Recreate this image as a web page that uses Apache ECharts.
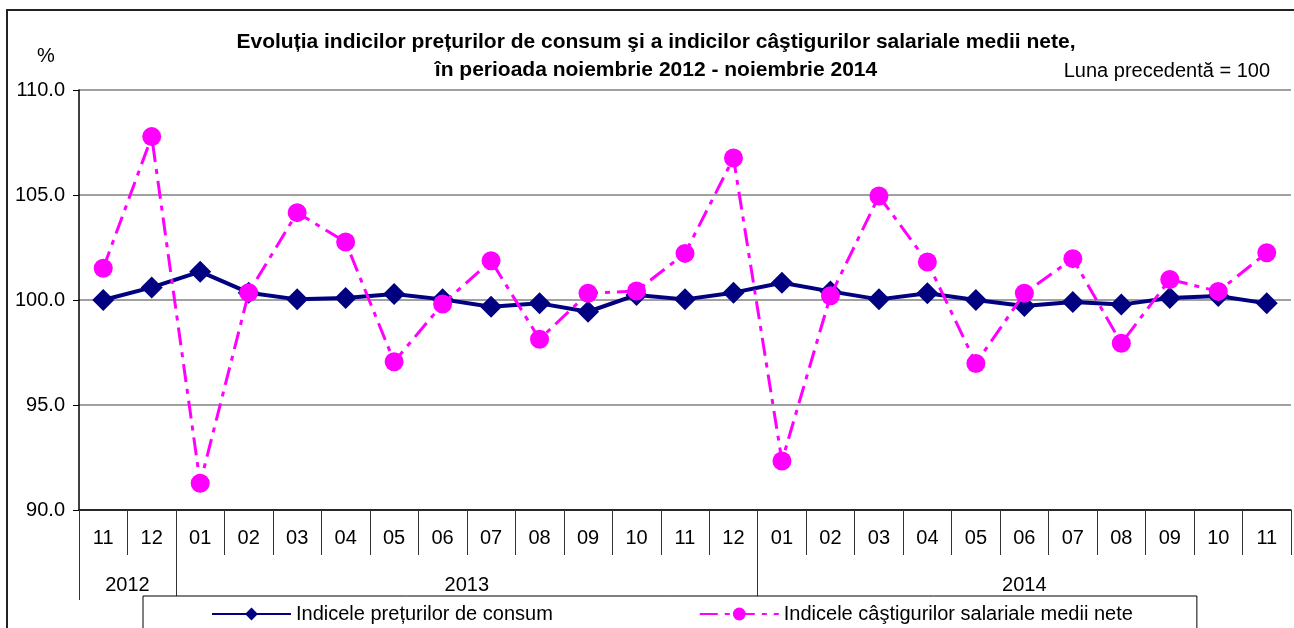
<!DOCTYPE html>
<html>
<head>
<meta charset="utf-8">
<script src="https://cdn.jsdelivr.net/npm/echarts@6/dist/echarts.min.js"></script>
<style>
html,body{margin:0;padding:0;background:#fff;}
#c{width:1294px;height:628px;}
</style>
</head>
<body>
<div id="c"></div>
<script>
// Months (noiembrie 2012 - noiembrie 2014)
var months = ['11','12','01','02','03','04','05','06','07','08','09','10','11','12','01','02','03','04','05','06','07','08','09','10','11'];
// Year labels: placed on a half-month grid (51 points), index -> label
var yearLabels = {2:'2012', 16:'2013', 39:'2014'};
var yearSeparators = [0, 4, 28];
// Series values (luna precedentă = 100)
var cpi = [100.0,100.6,101.35,100.35,100.03,100.1,100.29,100.03,99.68,99.84,99.44,100.24,100.03,100.35,100.82,100.41,100.03,100.32,100.0,99.71,99.9,99.78,100.1,100.19,99.84];
var wages = [101.51,107.78,91.27,100.35,104.16,102.76,97.06,99.81,101.87,98.13,100.32,100.43,102.22,106.76,92.33,100.2,104.95,101.81,96.98,100.32,101.97,97.94,100.98,100.41,102.25];
var yTicks = {min:90, max:110, interval:5};
var seriesNames = ['Indicele prețurilor de consum','Indicele câştigurilor salariale medii nete'];

var halfGrid = [];
for (var i = 0; i <= 50; i++) halfGrid.push(yearLabels[i] || '');

var FONT = 'Arial, "Liberation Sans", sans-serif';
var chart = echarts.init(document.getElementById('c'));
chart.setOption({
  animation: false,
  backgroundColor: '#fff',
  textStyle: {fontFamily: FONT},
  title: [
    {text: 'Evoluția indicilor prețurilor de consum şi a indicilor câştigurilor salariale medii nete,\nîn perioada noiembrie 2012 - noiembrie 2014',
     left: 651, top: 23, textAlign: 'center',
     textStyle: {fontFamily: FONT, fontSize: 21, fontWeight: 'bold', color: '#000', lineHeight: 28}},
    {text: 'Luna precedentă = 100', right: 19, top: 56,
     textStyle: {fontFamily: FONT, fontSize: 20, fontWeight: 'normal', color: '#000'}},
    {text: '%', left: 32, top: 41,
     textStyle: {fontFamily: FONT, fontSize: 20, fontWeight: 'normal', color: '#000'}}
  ],
  graphic: [
    {type: 'line', shape: {x1: 6, y1: 10, x2: 1294, y2: 10},
     style: {stroke: '#222', lineWidth: 2}, silent: true, z: 100},
    {type: 'line', shape: {x1: 7, y1: 10, x2: 7, y2: 628},
     style: {stroke: '#222', lineWidth: 2}, silent: true, z: 100}
  ],
  grid: {left: 79, right: -3, top: 90, bottom: 118, containLabel: false},
  legend: {
    data: seriesNames,
    left: 143, top: 596,
    padding: [8, 64, 30, 68],
    itemWidth: 79, itemHeight: 16, itemGap: 146,
    borderColor: '#000', borderWidth: 1, backgroundColor: '#fff',
    textStyle: {fontFamily: FONT, fontSize: 20, color: '#000'}
  },
  xAxis: [
    {type: 'category', data: months, boundaryGap: true, position: 'bottom',
     axisLine: {show: true, lineStyle: {color: '#000', width: 1.5}},
     axisTick: {show: true, interval: 0, length: 45, lineStyle: {color: '#333', width: 1}},
     axisLabel: {interval: 0, margin: 18, fontSize: 20, color: '#000', fontFamily: FONT},
     splitLine: {show: false}},
    {type: 'category', data: halfGrid, boundaryGap: false, position: 'bottom',
     axisLine: {show: false},
     axisTick: {show: true, length: 90, interval: function (idx) { return yearSeparators.indexOf(idx) >= 0; },
                lineStyle: {color: '#333', width: 1}},
     axisLabel: {interval: 0, margin: 65, fontSize: 20, color: '#000', fontFamily: FONT},
     splitLine: {show: false}}
  ],
  yAxis: {
    type: 'value', min: yTicks.min, max: yTicks.max, interval: yTicks.interval,
    axisLine: {show: true, lineStyle: {color: '#000', width: 1.5}},
    axisTick: {show: true, length: 6, lineStyle: {color: '#000'}},
    axisLabel: {margin: 14, fontSize: 20, color: '#000', fontFamily: FONT,
                formatter: function (v) { return v.toFixed(1); }},
    splitLine: {show: true, lineStyle: {color: '#808080', width: 1.5}}
  },
  series: [
    {name: seriesNames[0], type: 'line', xAxisIndex: 0, data: cpi,
     symbol: 'diamond', symbolSize: [22, 22],
     itemStyle: {color: '#000080'},
     lineStyle: {color: '#000080', width: 4}, z: 3},
    {name: seriesNames[1], type: 'line', xAxisIndex: 0, data: wages,
     symbol: 'circle', symbolSize: 19,
     itemStyle: {color: '#FF00FF'},
     lineStyle: {color: '#FF00FF', width: 3, type: [18, 7, 5, 7]}, z: 4}
  ]
});
</script>
</body>
</html>
